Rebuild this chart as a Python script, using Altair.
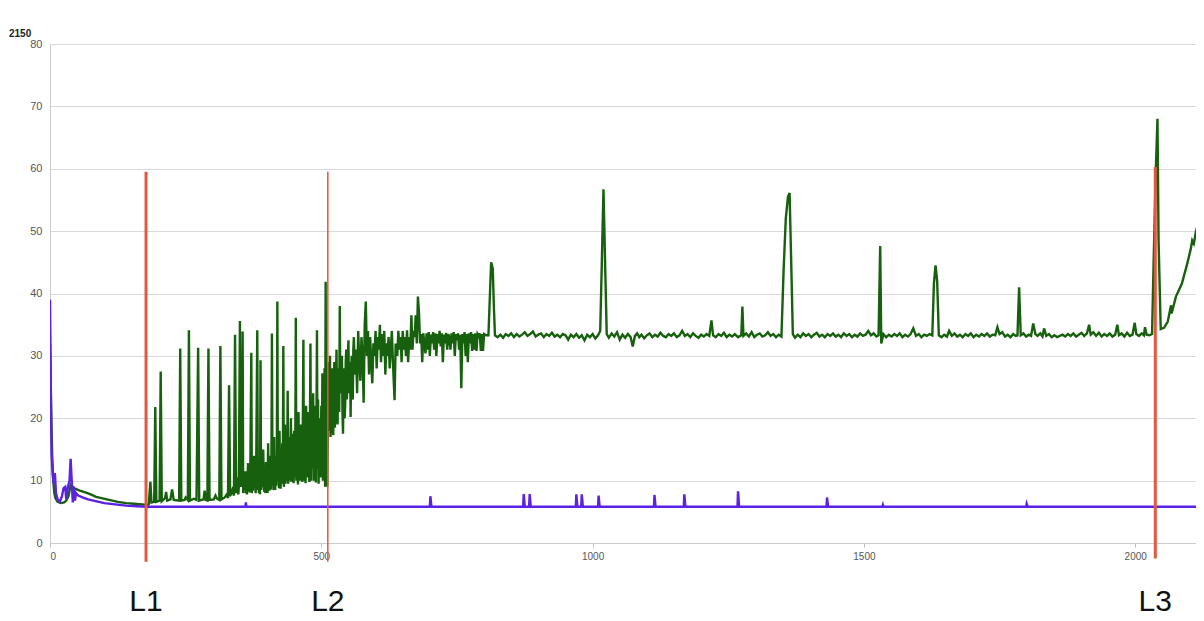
import altair as alt
import pandas as pd

# ---------------- data ----------------
GREEN_A = [(0, 32), (2, 22), (4, 14), (6, 10), (8, 8), (10, 7.2), (14, 6.6), (20, 6.4), (26, 6.5),
           (30, 6.8), (34, 7.5), (38, 9.3), (42, 9.0), (46, 8.7), (55, 8.4), (65, 8.1), (75, 7.8),
           (85, 7.4), (95, 7.2), (105, 7.0), (115, 6.8), (125, 6.6), (140, 6.4), (155, 6.3),
           (170, 6.2), (180, 6.1)]

GREEN_B = [(182, 6.2), (185, 9.8), (187, 6.5), (192, 6.6), (194, 21.8), (196, 6.6), (202, 6.8), (204, 27.5),
           (206, 6.7), (212, 7.2), (214, 8.2), (216, 6.8), (222, 7.0), (225, 8.6), (228, 6.9), (238, 6.8),
           (240, 31.2), (242, 6.8), (248, 6.9), (250, 7.3), (254, 6.9), (256, 34.1), (258, 6.8), (265, 7.1),
           (270, 6.9), (273, 31.3), (275, 6.8), (283, 7.0), (285, 8.4), (287, 6.9), (290, 6.8), (292, 31.2),
           (294, 6.9), (302, 7.0), (305, 7.6), (308, 7.1), (312, 6.9), (314, 31.6), (316, 7.0), (322, 7.3),
           (326, 7.8), (328, 7.2), (330, 25.3), (332, 7.5), (336, 8.5), (339, 7.6), (341, 33.4), (343, 8.0),
           (345, 9.5), (346, 10.5), (347, 7.8), (348, 9.0), (350, 35.6), (351, 9.0), (352, 13.0), (353, 9.0),
           (355, 33.9), (356, 8.0), (357, 10.5), (358, 8.5), (360, 11.5), (361, 8.0), (362, 9.8), (363, 7.8),
           (365, 12.8), (366, 8.4), (367, 10.8), (368, 8.1), (369, 10.0), (371, 30.5), (372, 8.0), (373, 11.0),
           (374, 8.4), (376, 14.0), (377, 8.8), (378, 11.5), (379, 8.0), (380, 12.0), (382, 34.1), (383, 8.5),
           (384, 11.0), (385, 8.0), (386, 12.0), (387, 7.8), (388, 29.3), (389, 8.5), (390, 12.0), (391, 9.0),
           (393, 15.0), (394, 9.0),
           (395, 8.2), (396, 11.5), (397, 8.0), (398, 13.0), (399, 8.3), (400, 12.8), (401, 8.0), (402, 16.0),
           (403, 9.0), (404, 12.0), (405, 8.4), (406, 14.0), (407, 8.6), (408, 11.0), (409, 33.6), (410, 9.5),
           (411, 13.0), (412, 8.5), (413, 17.0), (414, 9.0), (415, 8.5), (416, 14.0), (417, 9.2), (418, 12.5),
           (419, 38.7), (420, 10.0), (421, 15.0), (422, 8.8), (423, 18.0), (424, 10.5), (425, 8.7), (426, 14.5),
           (427, 9.5), (428, 16.0), (429, 10.0), (430, 31.6), (431, 9.0), (432, 13.0), (433, 19.0), (434, 9.5),
           (435, 16.5), (436, 12.0), (437, 10.0), (438, 24.4), (439, 9.5), (440, 15.0), (441, 17.0), (442, 10.0),
           (443, 13.5), (444, 20.0), (445, 9.8), (446, 17.5), (447, 11.0), (448, 15.0), (449, 9.6), (450, 18.0),
           (451, 10.5), (452, 14.0), (453, 36.1), (454, 10.0), (455, 18.0), (456, 12.5), (457, 9.4), (458, 21.0),
           (459, 12.0), (460, 16.0), (461, 10.0), (462, 19.0), (463, 11.5), (464, 17.0), (465, 9.8), (466, 20.0),
           (467, 32.6), (468, 10.0), (469, 20.0), (470, 12.0), (471, 9.6), (472, 22.0), (473, 11.0), (474, 18.0),
           (475, 10.5), (476, 21.0), (477, 12.5), (478, 9.8), (479, 19.0), (480, 32.0), (481, 10.0), (482, 21.0),
           (483, 12.0), (484, 17.0), (485, 24.0), (486, 10.0), (487, 20.0), (488, 13.0), (489, 22.0), (490, 9.7),
           (491, 18.0), (492, 34.1), (493, 12.0), (494, 23.0), (495, 9.5), (496, 20.0), (497, 15.0), (498, 17.0),
           (499, 10.5), (500, 22.0), (501, 12.0), (502, 27.2), (503, 10.0), (504, 20.0), (505, 14.0), (506, 28.0),
           (507, 9.0), (508, 41.9), (509, 12.0), (510, 26.0), (511, 9.0)]

GREEN_C = [(513, 29.0), (514, 18.0), (515, 24.0), (516, 30.0), (517, 17.0), (518, 20.0), (519, 27.0), (520, 28.0),
           (521, 19.0), (522, 17.3), (523, 25.0), (524, 29.0), (525, 18.5), (526, 22.0), (527, 26.0), (528, 31.0),
           (529, 20.0), (530, 19.0), (531, 28.0), (532, 27.0), (533, 21.0), (534, 38.0), (535, 25.0), (536, 24.0),
           (537, 29.0), (538, 30.0), (539, 21.0), (540, 17.5), (541, 25.0), (542, 28.0), (543, 20.0), (544, 22.0),
           (545, 29.0), (546, 31.0), (547, 23.0), (548, 25.0), (549, 30.0), (550, 32.5), (551, 24.0), (552, 26.0),
           (553, 29.0), (554, 20.2), (555, 27.0), (556, 30.0), (557, 24.0), (558, 23.0), (559, 31.0), (560, 33.0),
           (562, 27.0), (564, 31.0), (566, 24.0), (568, 34.0), (570, 29.0), (572, 26.0), (574, 33.0),
           (576, 30.0), (578, 22.5), (580, 35.0), (582, 38.7), (584, 30.0), (586, 34.0), (588, 27.0), (590, 33.0),
           (592, 29.0), (594, 25.6), (596, 32.0), (598, 30.0), (600, 34.0), (602, 28.0), (604, 33.0), (606, 31.0),
           (608, 35.0), (610, 29.0), (612, 33.5), (614, 30.0), (616, 34.0), (618, 27.0), (620, 32.0), (622, 30.0),
           (624, 33.0), (626, 28.0), (628, 31.0), (630, 34.0), (632, 29.0), (635, 22.9), (637, 32.0), (640, 30.0),
           (642, 34.0), (644, 31.0), (646, 33.0), (648, 29.0), (650, 34.0), (652, 31.0), (654, 33.0), (656, 30.0),
           (658, 34.1), (660, 29.0), (662, 33.0), (664, 31.0), (666, 36.5), (668, 31.0), (670, 34.0), (672, 33.0),
           (674, 36.5), (676, 32.0), (678, 39.5), (680, 37.0), (682, 32.0), (684, 33.5), (686, 29.0), (688, 33.6),
           (690, 32.0), (692, 30.4), (694, 33.6), (696, 31.0), (698, 33.8), (700, 30.0), (702, 33.4), (704, 32.0),
           (706, 33.8), (708, 31.0), (710, 33.6), (712, 30.0), (714, 33.5), (716, 32.0), (718, 34.0), (720, 31.5),
           (722, 33.6), (724, 29.0), (726, 33.4), (728, 32.0), (730, 33.7), (732, 31.0), (734, 33.5), (736, 33.0),
           (738, 31.0), (740, 33.6), (742, 32.0), (744, 33.8), (746, 30.0), (748, 33.5), (750, 32.5), (752, 33.6),
           (754, 31.0), (756, 33.4), (758, 24.8), (760, 33.5), (762, 32.0), (764, 33.8), (766, 30.0), (768, 33.5),
           (770, 29.0), (772, 33.6), (774, 32.0), (776, 33.8), (778, 30.8), (780, 33.5), (782, 31.0), (784, 33.6),
           (786, 30.8), (788, 33.5), (790, 33.2), (792, 33.6), (794, 30.8), (796, 33.5), (798, 30.8), (800, 33.5),
           (804, 33.3), (808, 33.3), (810, 38.0), (813, 45.0), (816, 44.0), (818, 38.0), (820, 33.3)]

GREEN_D = [(825, 33.0), (830, 33.4), (835, 32.9), (840, 33.5), (845, 33.2), (850, 33.6), (855, 33.0),
           (860, 33.5), (865, 33.1), (870, 33.4), (875, 33.8), (880, 33.2), (885, 33.5), (890, 33.9), (895, 33.1),
           (900, 33.4), (905, 33.6), (910, 33.0), (915, 33.5), (920, 33.2), (925, 33.7), (930, 33.1), (935, 33.4),
           (940, 33.0), (945, 33.5), (950, 33.3), (955, 32.6), (960, 33.4), (965, 33.0), (970, 33.5), (975, 32.9),
           (980, 33.3), (985, 32.5), (990, 33.4), (995, 33.0), (1000, 33.5), (1005, 32.8), (1010, 33.3),
           (1014, 34.0), (1017, 45.0), (1020, 56.7), (1023, 45.0), (1026, 33.5), (1030, 32.9), (1035, 33.6),
           (1040, 33.1), (1045, 33.8), (1050, 32.6), (1055, 33.4), (1060, 32.9), (1065, 33.5), (1070, 33.0),
           (1074, 31.5), (1078, 33.2), (1082, 33.6), (1086, 33.0), (1090, 33.4), (1095, 32.8), (1100, 33.3),
           (1105, 33.6), (1110, 33.0), (1115, 33.4), (1120, 33.1), (1125, 33.7), (1130, 33.2), (1135, 33.0),
           (1140, 33.5), (1145, 33.2), (1150, 33.6), (1155, 33.0), (1160, 33.3), (1165, 34.0), (1170, 33.2),
           (1175, 33.5), (1180, 33.0), (1185, 33.6), (1190, 33.2), (1195, 32.9), (1200, 33.4), (1205, 33.1),
           (1210, 33.5), (1215, 33.2), (1219, 35.7), (1222, 33.3), (1227, 33.0), (1232, 33.5), (1237, 33.2),
           (1242, 33.7), (1247, 33.0), (1252, 33.4), (1257, 33.1), (1262, 33.5), (1268, 33.0), (1274, 33.3),
           (1276, 37.9), (1278, 33.2), (1283, 33.6), (1288, 33.1), (1293, 33.8), (1298, 33.0), (1303, 33.4),
           (1308, 33.6), (1313, 33.1), (1318, 33.3), (1323, 33.8), (1328, 33.2), (1333, 33.5), (1338, 33.0),
           (1343, 33.4), (1348, 33.1), (1352, 43.8), (1356, 52.0), (1360, 55.5), (1363, 56.1), (1366, 45.0),
           (1369, 33.5), (1373, 32.9), (1378, 33.4), (1383, 33.0), (1388, 33.6), (1393, 33.2), (1398, 33.5),
           (1403, 33.0), (1408, 33.4), (1413, 33.7), (1418, 33.1), (1423, 33.4), (1428, 33.0), (1433, 33.5),
           (1438, 33.2), (1443, 33.6), (1448, 33.1), (1453, 33.4), (1458, 33.0), (1463, 33.6), (1468, 33.2),
           (1473, 33.5), (1478, 33.0), (1483, 33.4), (1488, 33.1), (1493, 33.6), (1498, 33.2), (1503, 33.4),
           (1508, 34.0), (1513, 33.3), (1518, 33.6), (1523, 33.1), (1527, 33.3), (1530, 47.6), (1532, 32.0),
           (1536, 33.5), (1541, 33.0), (1546, 33.4), (1551, 33.1), (1556, 33.5), (1561, 33.2), (1566, 33.6),
           (1571, 33.0), (1576, 33.4), (1581, 33.1), (1586, 33.5), (1591, 34.4), (1596, 33.2), (1601, 33.5),
           (1606, 33.0), (1611, 33.4), (1616, 33.2), (1621, 33.5), (1626, 33.3), (1629, 41.6), (1632, 44.5),
           (1635, 42.0), (1638, 33.3), (1643, 33.0), (1648, 33.4), (1653, 33.1), (1657, 34.0), (1662, 33.2),
           (1667, 33.6), (1672, 33.1), (1677, 33.4), (1682, 33.0), (1687, 33.5), (1692, 33.2), (1697, 33.6),
           (1702, 33.0), (1707, 33.4), (1712, 33.1), (1717, 33.5), (1722, 33.2), (1727, 33.6), (1732, 33.1),
           (1737, 33.4), (1742, 33.3), (1746, 34.6), (1750, 33.5), (1755, 33.8), (1760, 33.1), (1765, 33.4),
           (1770, 33.0), (1775, 33.5), (1780, 33.2), (1783, 33.3), (1786, 41.0), (1789, 33.3), (1794, 33.6),
           (1799, 33.1), (1804, 33.4), (1808, 33.2), (1812, 35.2), (1816, 33.5), (1820, 33.2), (1825, 33.6),
           (1829, 33.1), (1832, 34.4), (1836, 33.2), (1841, 33.5), (1846, 33.0), (1851, 33.3), (1856, 33.0),
           (1861, 33.2), (1866, 33.4), (1871, 33.1), (1876, 33.5), (1881, 33.2), (1886, 33.6), (1891, 33.1),
           (1896, 33.4), (1901, 33.7), (1906, 33.2), (1911, 33.6), (1915, 35.0), (1918, 33.4), (1923, 33.8),
           (1928, 33.2), (1933, 33.7), (1938, 33.1), (1943, 33.5), (1948, 33.2), (1953, 33.6), (1958, 33.1),
           (1963, 33.4), (1967, 35.0), (1970, 33.3), (1975, 33.6), (1980, 33.1), (1985, 33.7), (1990, 33.2),
           (1995, 33.4), (1999, 35.3), (2002, 33.5), (2007, 33.2), (2012, 33.6), (2016, 33.3), (2018, 34.6),
           (2021, 33.4), (2026, 33.3), (2031, 33.5), (2034, 45.4), (2038, 60.0), (2041, 68.0), (2043, 48.5),
           (2047, 34.3), (2053, 34.5), (2060, 35.5), (2066, 38.1), (2067, 36.8), (2075, 39.5), (2086, 41.6),
           (2095, 44.5), (2102, 47.0), (2105, 48.5), (2108, 48.0), (2112, 50.0), (2118, 51.8), (2125, 52.6)]

PURPLE = [(0, 39), (1, 30), (2, 20), (3, 14), (5, 11), (7, 9.5), (9, 11.2), (11, 8), (14, 7), (18, 6.6),
          (22, 7.5), (25, 8.8), (28, 9.0), (30, 7.0), (33, 9.0), (36, 10.0), (38, 13.5), (40, 10.0), (42, 6.5),
          (44, 9.0), (46, 6.8), (48, 8.0), (52, 7.6), (60, 7.3), (70, 7.0), (80, 6.8), (90, 6.6), (100, 6.4),
          (120, 6.2), (140, 6.0), (160, 5.9), (180, 5.8), (360, 5.8), (361, 6.5), (362, 5.8),
          (700, 5.8), (701, 7.5), (703, 5.8), (872, 5.8), (873, 7.85), (875, 5.8), (883, 5.8), (884, 7.85),
          (886, 5.8), (969, 5.8), (970, 7.8), (972, 5.8), (979, 5.8), (980, 7.8), (982, 5.8), (1010, 5.8),
          (1011, 7.6), (1013, 5.8), (1113, 5.8), (1114, 7.7), (1116, 5.8), (1168, 5.8), (1169, 7.8),
          (1171, 5.8), (1267, 5.8), (1268, 8.3), (1270, 5.8), (1431, 5.8), (1432, 7.3), (1434, 5.8),
          (1534, 5.8), (1535, 6.1), (1536, 5.8), (1799, 5.8), (1800, 6.3), (1802, 5.8), (2125, 5.8)]

MARKER_LABELS = ["L1", "L2", "L3"]
MARKER_X = [177, 512, 2037]
MARKER_TOP = [59.5, 59.5, 60.3]
MARKER_BOTTOM = [-3.0, -3.0, -2.5]
LABEL_Y = -9.4

X_TICKS = [0, 500, 1000, 1500, 2000]
Y_TICKS = [0, 10, 20, 30, 40, 50, 60, 70, 80]
CORNER_TEXT = "2150"

# ---------------- build tables ----------------
green_pts = GREEN_A + GREEN_B + GREEN_C + GREEN_D
green = pd.DataFrame({"x": [p[0] for p in green_pts], "y": [p[1] for p in green_pts]})
green["i"] = range(len(green))
purple = pd.DataFrame({"x": [p[0] for p in PURPLE], "y": [p[1] for p in PURPLE]})
purple["i"] = range(len(purple))
markers = pd.DataFrame({"label": MARKER_LABELS, "x": MARKER_X, "top": MARKER_TOP,
                        "bottom": MARKER_BOTTOM, "ly": [LABEL_Y] * 3})

xscale = alt.Scale(domain=[0, 2112], nice=False, zero=False)
yscale = alt.Scale(domain=[0, 80], nice=False)

xaxis = alt.Axis(values=X_TICKS, grid=False, labelFontSize=10, labelColor="#555555",
                 tickColor="#bbbbbb", tickSize=4, domainColor="#cccccc", title=None,
                 labelFont="Liberation Sans", labelPadding=4, format="d")
yaxis = alt.Axis(values=Y_TICKS, grid=True, gridColor="#d9d9d9", labelFontSize=11,
                 labelColor="#555555", ticks=False, domainColor="#cccccc", title=None,
                 labelFont="Liberation Sans", labelPadding=8)

g_line = alt.Chart(green).mark_line(color="#17600d", strokeWidth=2.4, clip=True).encode(
    x=alt.X("x:Q", scale=xscale, axis=xaxis),
    y=alt.Y("y:Q", scale=yscale, axis=yaxis),
    order="i:Q",
)
p_line = alt.Chart(purple).mark_line(color="#5b22e6", strokeWidth=2.4, clip=True).encode(
    x=alt.X("x:Q", scale=xscale),
    y=alt.Y("y:Q", scale=yscale),
    order="i:Q",
)
rules = alt.Chart(markers).mark_rule(color="#e0583f").encode(
    x=alt.X("x:Q", scale=xscale),
    y=alt.Y("top:Q", scale=yscale),
    y2="bottom:Q",
    strokeWidth=alt.condition(alt.datum.label == "L2", alt.value(1.5), alt.value(3)),
)
labels = alt.Chart(markers).mark_text(fontSize=30, font="Liberation Sans", color="#111111",
                                      baseline="middle", align="center").encode(
    x=alt.X("x:Q", scale=xscale),
    y=alt.Y("ly:Q", scale=yscale),
    text="label:N",
)

chart = alt.layer(g_line, p_line, rules, labels).properties(
    width=1146,
    height=499,
    autosize=alt.AutoSizeParams(type="none"),
    padding={"left": 42, "top": 36, "right": 0, "bottom": 77},
    title=alt.TitleParams(CORNER_TEXT, anchor="start", frame="group", dx=-41, dy=7, offset=6,
                          fontSize=10, fontWeight="bold", font="Liberation Sans", color="#222222"),
    background="white",
).configure_view(stroke=None)

chart.save("out.html", embed_options={"renderer": "svg", "actions": False})
